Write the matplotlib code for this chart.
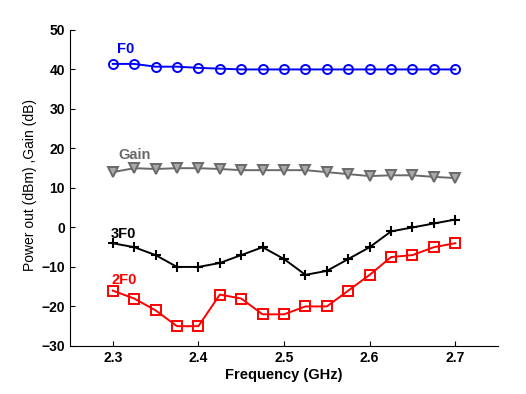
import matplotlib
matplotlib.use("Agg")
import matplotlib.pyplot as plt

plt.rcParams["font.family"] = ["Liberation Sans", "DejaVu Sans"]
plt.rcParams["font.weight"] = "bold"

freq = [2.3, 2.325, 2.35, 2.375, 2.4, 2.425, 2.45, 2.475, 2.5,
        2.525, 2.55, 2.575, 2.6, 2.625, 2.65, 2.675, 2.7]
f0 = [41.4, 41.4, 40.7, 40.7, 40.4, 40.2, 40, 40, 40,
      40, 40, 40, 40, 40, 40, 40, 40]
gain = [14, 15, 14.8, 15, 15, 14.8, 14.5, 14.5, 14.5,
        14.5, 14, 13.5, 13, 13.2, 13.2, 12.8, 12.5]
f3 = [-4, -5, -7, -10, -10, -9, -7, -5, -8,
      -12, -11, -8, -5, -1, 0, 1, 2]
f2 = [-16, -18, -21, -25, -25, -17, -18, -22, -22,
      -20, -20, -16, -12, -7.5, -7, -5, -4]

fig = plt.figure(figsize=(5.26, 3.94), dpi=100)
ax = fig.add_axes([0.133, 0.122, 0.814, 0.802])

ax.plot(freq, f0, color="blue", marker="o", mfc="none", ms=6.5, mew=1.4, lw=1.4)
ax.plot(freq, gain, color="dimgray", marker="v", mfc="darkgray", ms=6.5, mew=1.4, lw=1.4)
ax.plot(freq, f3, color="black", marker="+", ms=7, mew=1.5, lw=1.4)
ax.plot(freq, f2, color="red", marker="s", mfc="none", ms=6.5, mew=1.4, lw=1.4)

ax.text(2.305, 44.2, "F0", color="blue", fontsize=10.5, fontweight="bold")
ax.text(2.306, 17.3, "Gain", color="dimgray", fontsize=10.5, fontweight="bold")
ax.text(2.298, -2.8, "3F0", color="black", fontsize=10.5, fontweight="bold")
ax.text(2.299, -14.3, "2F0", color="red", fontsize=10.5, fontweight="bold")

ax.set_xlim(2.25, 2.75)
ax.set_ylim(-30, 50)
ax.set_xticks([2.3, 2.4, 2.5, 2.6, 2.7])
ax.set_yticks(range(-30, 51, 10))
ax.tick_params(direction="in", labelsize=10)
ax.spines["top"].set_visible(False)
ax.spines["right"].set_visible(False)
ax.set_xlabel("Frequency (GHz)", fontsize=10.5, fontweight="bold", labelpad=2)
ax.set_ylabel("Power out (dBm) ,Gain (dB)", fontsize=10, fontweight="normal")
ax.yaxis.set_label_coords(-0.077, 0.51)

fig.savefig("out.png", dpi=100)
